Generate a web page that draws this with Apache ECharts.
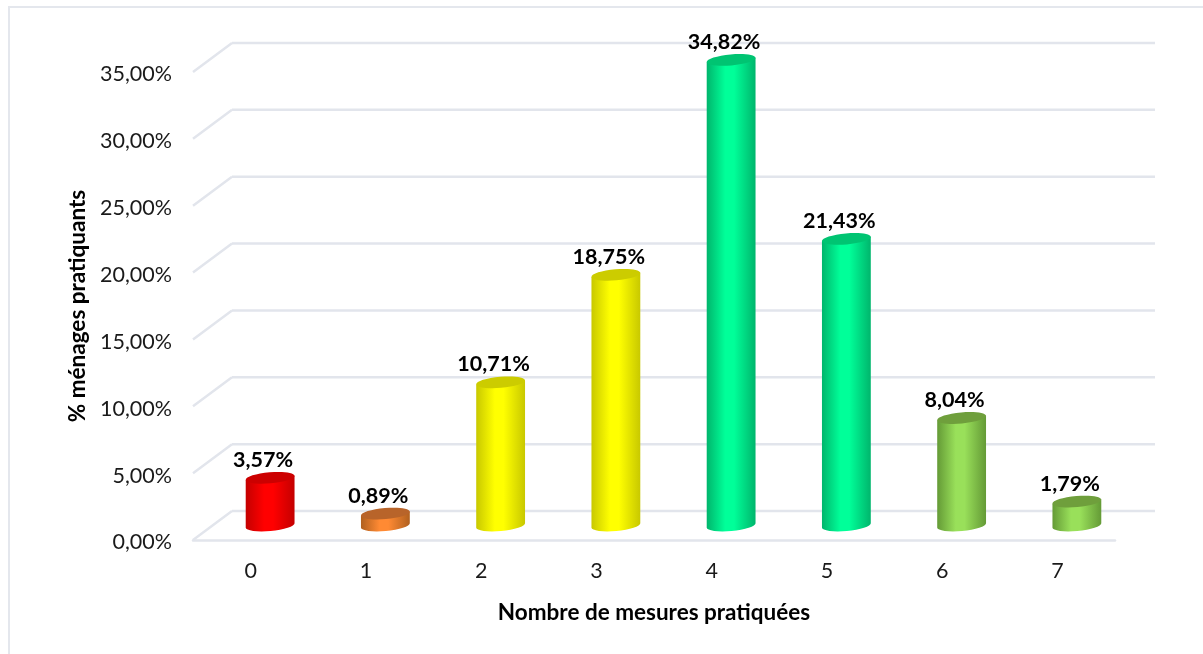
<!DOCTYPE html>
<html>
<head>
<meta charset="utf-8">
<title>Nombre de mesures pratiquées</title>
<script src="https://cdn.jsdelivr.net/npm/echarts@6/dist/echarts.min.js"></script>
<style>
  html, body { margin: 0; padding: 0; background: #fff; overflow: hidden; }
  #frame { position: absolute; left: 8px; top: 6px; width: 1195px; height: 648px; border-left: 2px solid #e4e7ed; border-top: 2px solid #e4e7ed; box-sizing: border-box; }
  #chart { position: absolute; left: 0; top: 0; width: 1203px; height: 654px; }
</style>
</head>
<body>
<div id="frame"></div>
<div id="chart"></div>
<script>
const categories = ["0", "1", "2", "3", "4", "5", "6", "7"];
const menages = [3.57, 0.89, 10.71, 18.75, 34.82, 21.43, 8.04, 1.79];
const yTicks = [0, 5, 10, 15, 20, 25, 30, 35];

// couleurs des cylindres : [bord, centre, dessus]
const red = ["#c40000", "#ff0000", "#cc0000"];
const orange = ["#b0601f", "#ff8a33", "#b8642a"];
const yellow = ["#c8c800", "#ffff00", "#cccc00"];
const green = ["#00b56c", "#00ff99", "#00c472"];
const lime = ["#649a36", "#99e05a", "#6f9f3c"];
const barColors = [red, orange, yellow, yellow, green, green, lime, lime];

const fontName = "Lato";
const lineColor = "#e2e5ec";

// decalage du fond 3D par rapport a l'axe
const depthX = 39;
const depthY = -29;
const rx = 24.5;
const ry = 5.5;
const tilt = -5;

const fmtPct = (v) => v.toFixed(2).replace(".", ",") + "%";

const chart = echarts.init(document.getElementById("chart"), null, { renderer: "canvas" });

function renderWall(params, api) {
  const v = api.value(0);
  const cs = params.coordSys;
  const yf = api.coord([0, v])[1];
  const x0 = cs.x;
  const x1 = cs.x + cs.width;
  const style = { stroke: lineColor, lineWidth: 2.5, fill: null };
  return {
    type: "group",
    children: [
      { type: "line", shape: { x1: x0, y1: yf, x2: x0 + depthX, y2: yf + depthY }, style: style },
      { type: "line", shape: { x1: x0 + depthX, y1: yf + depthY, x2: x1 + depthX + 1, y2: yf + depthY }, style: style }
    ]
  };
}

function renderCylinder(params, api) {
  const i = api.value(0);
  const v = api.value(1);
  const base = api.coord([i, 0]);
  const top = api.coord([i, v]);
  const cx = base[0] + depthX / 2;
  const by = base[1] + depthY / 2;
  const ty = top[1] + depthY / 2;
  const a = (tilt * Math.PI) / 180;
  const ex = rx * Math.cos(a);
  const ey = rx * Math.sin(a);
  const c = barColors[i];
  const d =
    "M" + (cx - ex) + " " + (ty - ey) +
    " L" + (cx - ex) + " " + (by - ey) +
    " A" + rx + " " + ry + " " + tilt + " 0 0 " + (cx + ex) + " " + (by + ey) +
    " L" + (cx + ex) + " " + (ty + ey) + " Z";
  return {
    type: "group",
    children: [
      {
        type: "path",
        shape: { pathData: d },
        style: {
          fill: new echarts.graphic.LinearGradient(0, 0, 1, 0, [
            { offset: 0, color: c[0] },
            { offset: 0.38, color: c[1] },
            { offset: 0.56, color: c[1] },
            { offset: 1, color: c[0] }
          ])
        }
      },
      {
        type: "ellipse",
        x: cx,
        y: ty,
        rotation: (-tilt * Math.PI) / 180,
        shape: { cx: 0, cy: 0, rx: rx, ry: ry },
        style: { fill: c[2] }
      },
      {
        type: "text",
        x: cx - 7,
        y: ty - 18,
        style: {
          text: fmtPct(v),
          font: "bold 21.5px " + fontName,
          fill: "#000",
          align: "center",
          verticalAlign: "middle"
        }
      }
    ]
  };
}

const option = {
  animation: false,
  textStyle: { fontFamily: fontName },
  grid: { left: 193, top: 72, width: 922, height: 468 },
  xAxis: {
    type: "category",
    data: categories,
    name: "Nombre de mesures pratiquées",
    nameLocation: "middle",
    nameGap: 61,
    nameTextStyle: { fontFamily: fontName, fontSize: 22.5, fontWeight: "bold", color: "#000" },
    axisLine: { show: true, lineStyle: { color: lineColor, width: 2.5 } },
    axisTick: { show: false },
    axisLabel: { fontFamily: fontName, fontSize: 21.5, color: "#1a1a1a", margin: 20 }
  },
  yAxis: {
    type: "value",
    min: 0,
    max: 35,
    interval: 5,
    name: "% ménages pratiquants",
    nameLocation: "middle",
    nameGap: 104,
    nameTextStyle: { fontFamily: fontName, fontSize: 22.5, fontWeight: "bold", color: "#000" },
    axisLine: { show: false },
    axisTick: { show: false },
    splitLine: { show: false },
    axisLabel: {
      margin: 21,
      formatter: (v) => "{t|" + fmtPct(v) + "}",
      rich: { t: { fontFamily: fontName, fontSize: 21.5, color: "#1a1a1a", padding: [5, 0, 0, 0] } }
    }
  },
  series: [
    {
      type: "custom",
      coordinateSystem: "cartesian2d",
      renderItem: renderWall,
      encode: { y: 0 },
      silent: true,
      z: 1,
      data: yTicks.map((t) => [t])
    },
    {
      type: "custom",
      coordinateSystem: "cartesian2d",
      renderItem: renderCylinder,
      encode: { x: 0, y: 1 },
      z: 2,
      data: menages.map((v, i) => [i, v])
    }
  ]
};

chart.setOption(option);
</script>
</body>
</html>
